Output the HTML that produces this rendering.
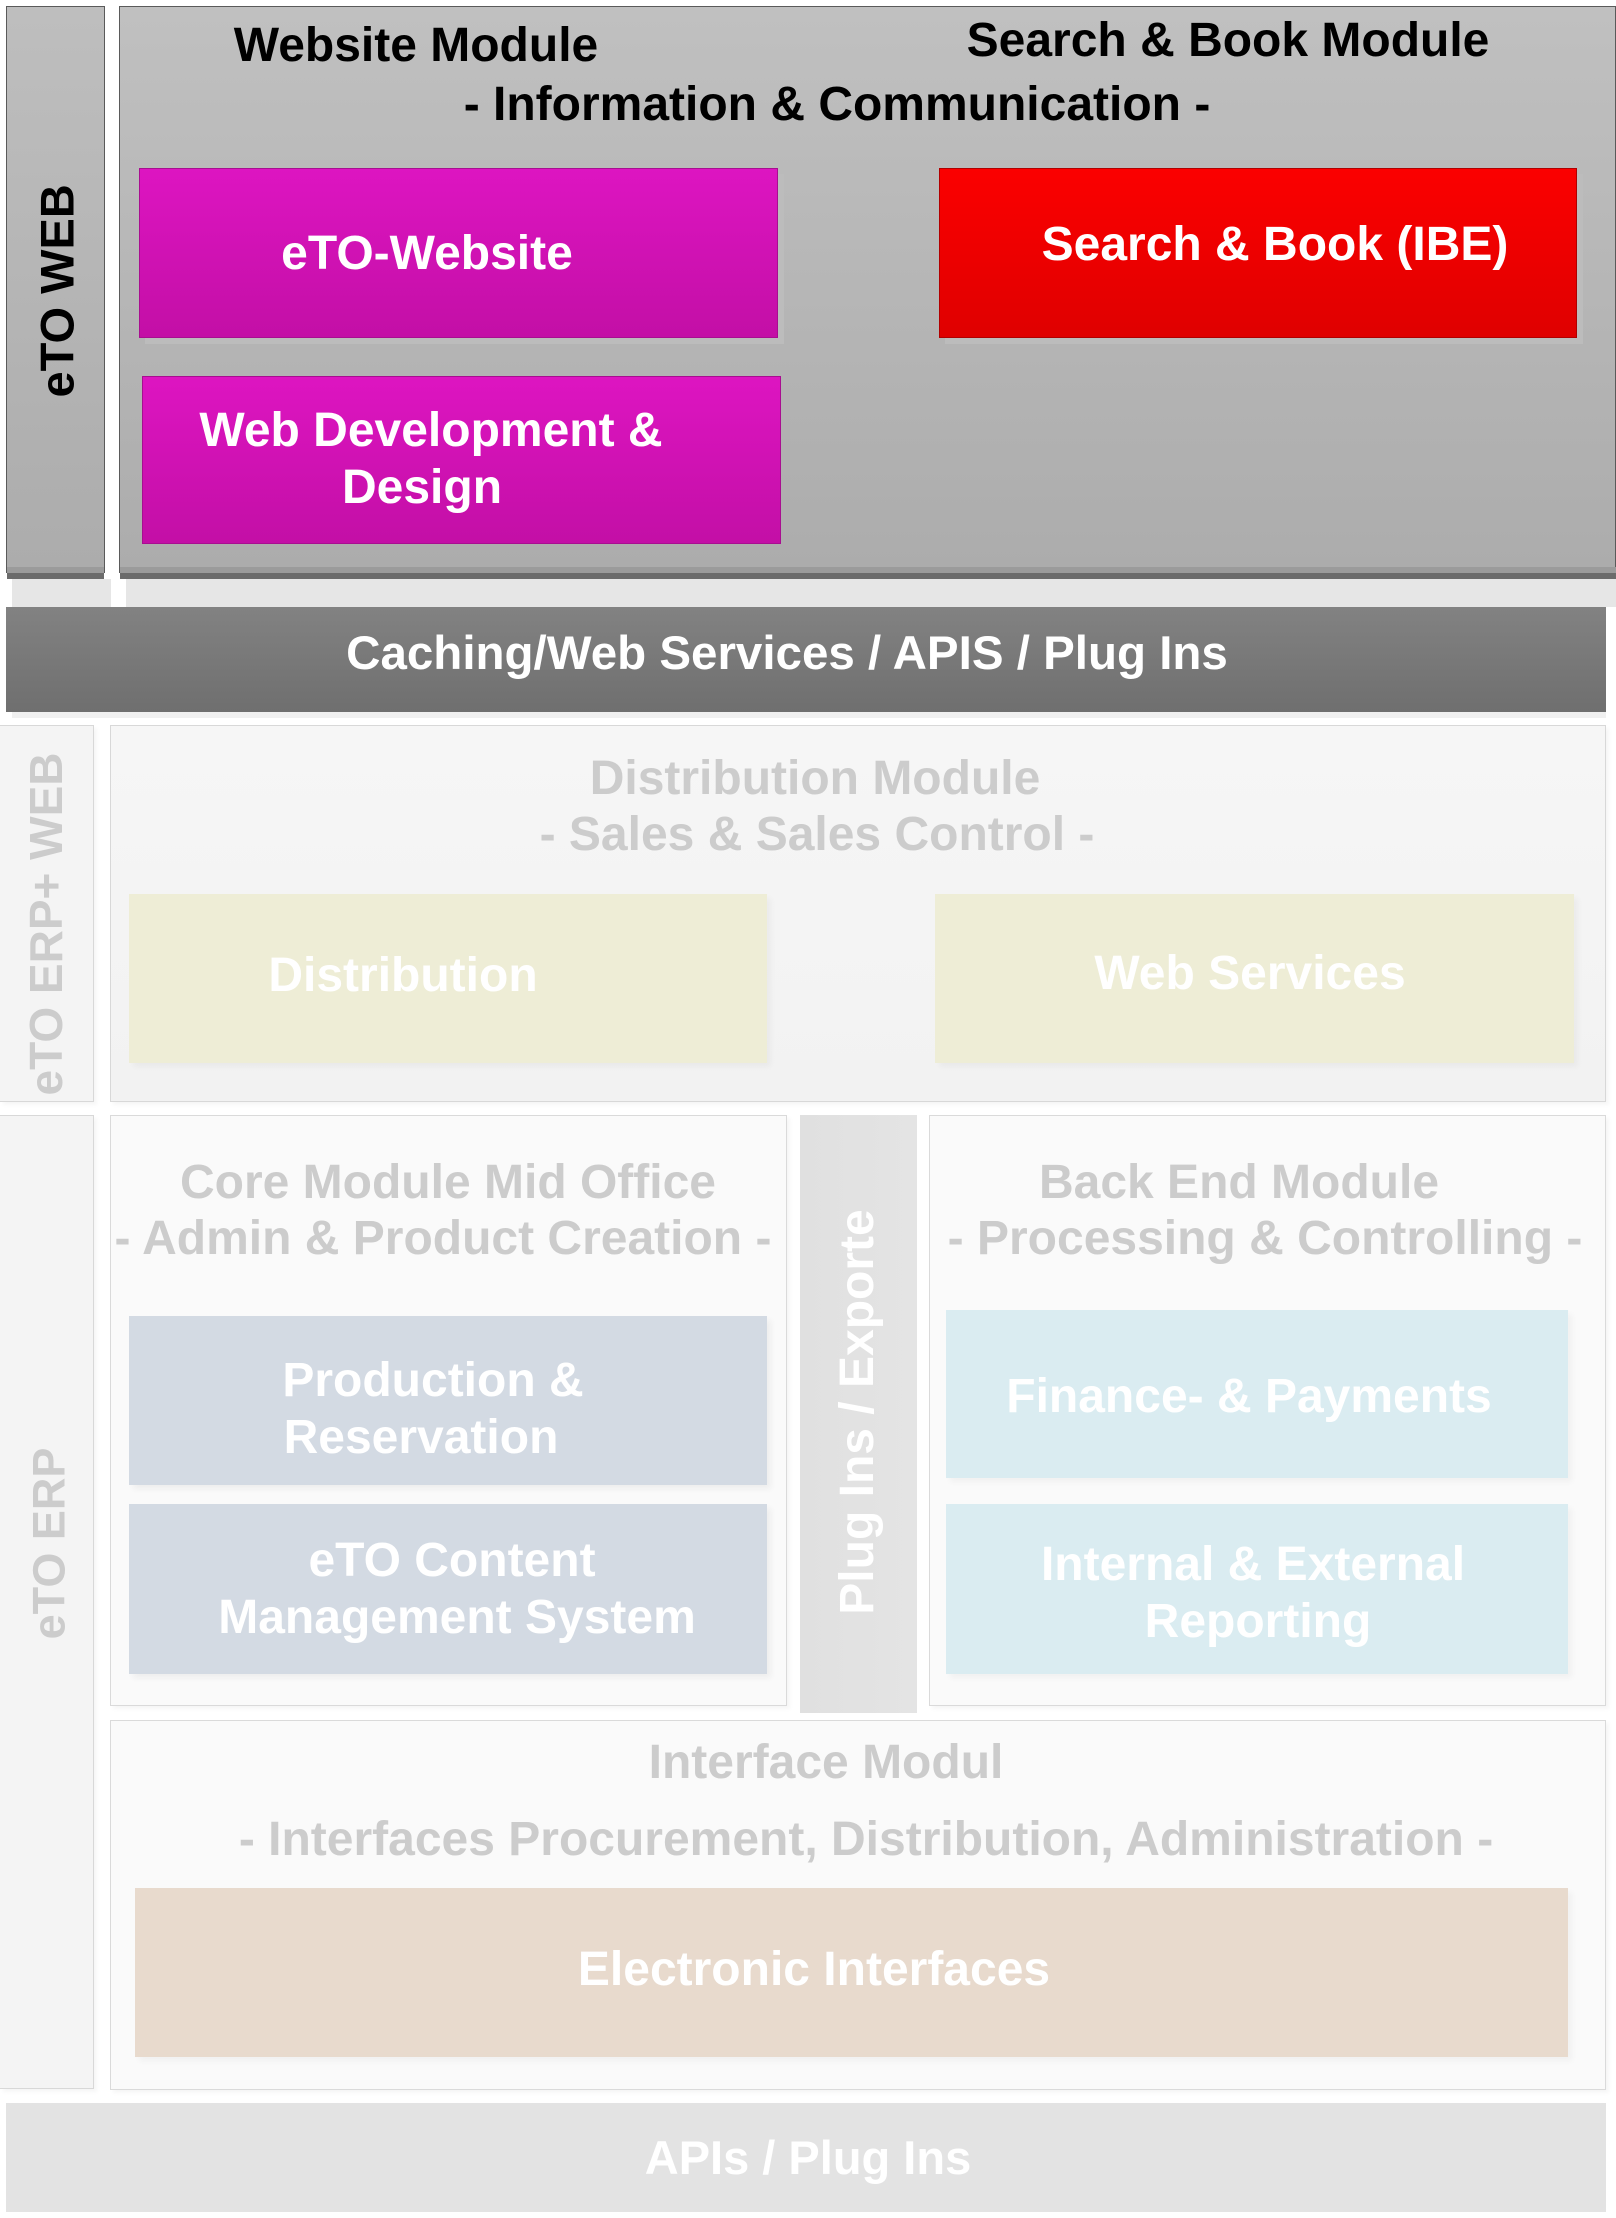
<!DOCTYPE html>
<html>
<head>
<meta charset="utf-8">
<style>
  html, body { margin:0; padding:0; }
  body { width:1616px; height:2218px; position:relative; overflow:hidden; background:#ffffff;
         font-family:"Liberation Sans", Arial, sans-serif; font-weight:bold; }
  .r { position:absolute; box-sizing:border-box; }
  .t { position:absolute; width:1600px; text-align:center; white-space:nowrap; font-weight:bold; }
  .v { position:absolute; text-align:center; white-space:nowrap; font-weight:bold; transform:rotate(-90deg); }
</style>
</head>
<body>

<!-- ===== TOP: eTO WEB ===== -->
<div class="r" style="left:12px;top:579px;width:99px;height:28px;background:#e6e6e6;"></div>
<div class="r" style="left:126px;top:579px;width:1490px;height:28px;background:#e6e6e6;"></div>

<div class="r" style="left:6px;top:6px;width:99px;height:567px;background:linear-gradient(#bebebe,#acacac);border:1.5px solid #5a5a5a;border-bottom:none;"></div>
<div class="r" style="left:7px;top:567px;width:97px;height:6px;background:#9b9b9b;"></div>
<div class="r" style="left:7px;top:573px;width:97px;height:6px;background:#6b6b6b;"></div>

<div class="r" style="left:119px;top:6px;width:1497px;height:567px;background:linear-gradient(#c0c0c0,#acacac);border:1.5px solid #5a5a5a;border-bottom:none;"></div>
<div class="r" style="left:120px;top:567px;width:1496px;height:6px;background:#9b9b9b;"></div>
<div class="r" style="left:120px;top:573px;width:1496px;height:6px;background:#6b6b6b;"></div>

<div class="v" style="left:-43px;top:274px;width:200px;height:47px;font-size:47px;line-height:47px;color:#000;">eTO WEB</div>

<div class="t" style="left:-384px;top:22px;font-size:48px;line-height:48px;color:#000;">Website Module</div>
<div class="t" style="left:428px;top:17px;font-size:48px;line-height:48px;color:#000;">Search &amp; Book Module</div>
<div class="t" style="left:37px;top:81px;font-size:48px;line-height:48px;color:#000;">- Information &amp; Communication -</div>

<!-- eTO-Website -->
<div class="r" style="left:145px;top:174px;width:639px;height:170px;background:#bcbcbc;"></div>
<div class="r" style="left:139px;top:168px;width:639px;height:170px;background:linear-gradient(#dd15c1,#c30fa6);border:1px solid #a80e90;"></div>
<div class="t" style="left:-373px;top:230px;font-size:48px;line-height:48px;color:#fff;">eTO-Website</div>

<!-- Web Development -->
<div class="r" style="left:142px;top:376px;width:639px;height:168px;background:linear-gradient(#dd15c1,#c30fa6);border:1px solid #a80e90;"></div>
<div class="t" style="left:-369px;top:407px;font-size:48px;line-height:48px;color:#fff;">Web Development &amp;</div>
<div class="t" style="left:-378px;top:464px;font-size:48px;line-height:48px;color:#fff;">Design</div>

<!-- Search & Book -->
<div class="r" style="left:945px;top:174px;width:638px;height:170px;background:#bcbcbc;"></div>
<div class="r" style="left:939px;top:168px;width:638px;height:170px;background:linear-gradient(#fb0000,#df0000);border:1px solid #b00000;"></div>
<div class="t" style="left:475px;top:221px;font-size:48px;line-height:48px;color:#fff;">Search &amp; Book (IBE)</div>

<!-- Caching bar -->
<div class="r" style="left:12px;top:712px;width:1594px;height:6px;background:#f0f0f0;"></div>
<div class="r" style="left:6px;top:607px;width:1600px;height:105px;background:linear-gradient(#828282,#6f6f6f);"></div>
<div class="t" style="left:-13px;top:630px;font-size:47.5px;line-height:47.5px;color:#fff;">Caching/Web Services / APIS / Plug Ins</div>

<!-- ===== eTO ERP+ WEB ===== -->
<div class="r" style="left:0px;top:725px;width:94px;height:377px;background:#f4f4f4;border:1px solid #d8d8d8;border-left:none;box-shadow:3px 3px 4px rgba(0,0,0,0.04);"></div>
<div class="v" style="left:-154px;top:901px;width:400px;height:46px;font-size:46px;line-height:46px;color:#cccccc;">eTO ERP+ WEB</div>

<div class="r" style="left:110px;top:725px;width:1496px;height:377px;background:linear-gradient(#f6f6f6,#f2f2f2);border:1px solid #d8d8d8;box-shadow:3px 3px 4px rgba(0,0,0,0.04);"></div>
<div class="t" style="left:15px;top:755px;font-size:48px;line-height:48px;color:#cccccc;">Distribution Module</div>
<div class="t" style="left:17px;top:811px;font-size:48px;line-height:48px;color:#cccccc;">- Sales &amp; Sales Control -</div>

<div class="r" style="left:129px;top:894px;width:638px;height:169px;background:#eeedd6;box-shadow:4px 4px 6px rgba(0,0,0,0.04);"></div>
<div class="t" style="left:-397px;top:952px;font-size:48px;line-height:48px;color:#fff;">Distribution</div>

<div class="r" style="left:935px;top:894px;width:639px;height:169px;background:#eeedd6;box-shadow:4px 4px 6px rgba(0,0,0,0.04);"></div>
<div class="t" style="left:450px;top:950px;font-size:48px;line-height:48px;color:#fff;">Web Services</div>

<!-- ===== eTO ERP ===== -->
<div class="r" style="left:0px;top:1115px;width:94px;height:974px;background:#f4f4f4;border:1px solid #d8d8d8;border-left:none;box-shadow:3px 3px 4px rgba(0,0,0,0.04);"></div>
<div class="v" style="left:-101px;top:1521px;width:300px;height:45px;font-size:45px;line-height:45px;color:#cccccc;">eTO ERP</div>

<!-- Core module -->
<div class="r" style="left:110px;top:1115px;width:677px;height:591px;background:#fafafa;border:1px solid #dadada;box-shadow:3px 3px 4px rgba(0,0,0,0.04);"></div>
<div class="t" style="left:-352px;top:1159px;font-size:48px;line-height:48px;color:#cccccc;">Core Module Mid Office</div>
<div class="t" style="left:-357px;top:1215px;font-size:48px;line-height:48px;color:#cccccc;">- Admin &amp; Product Creation -</div>

<div class="r" style="left:129px;top:1316px;width:638px;height:169px;background:#d3dae3;box-shadow:4px 4px 6px rgba(0,0,0,0.05);"></div>
<div class="t" style="left:-367px;top:1357px;font-size:48px;line-height:48px;color:#fff;">Production &amp;</div>
<div class="t" style="left:-379px;top:1414px;font-size:48px;line-height:48px;color:#fff;">Reservation</div>

<div class="r" style="left:129px;top:1504px;width:638px;height:170px;background:#d3dae3;box-shadow:4px 4px 6px rgba(0,0,0,0.05);"></div>
<div class="t" style="left:-348px;top:1537px;font-size:48px;line-height:48px;color:#fff;">eTO Content</div>
<div class="t" style="left:-343px;top:1594px;font-size:48px;line-height:48px;color:#fff;">Management System</div>

<!-- Plug Ins / Exporte -->
<div class="r" style="left:800px;top:1115px;width:117px;height:598px;background:linear-gradient(90deg,#e0e0e0,#e4e4e4);"></div>
<div class="v" style="left:608px;top:1388px;width:500px;height:48px;font-size:48px;line-height:48px;color:#fff;">Plug Ins / Exporte</div>

<!-- Back End -->
<div class="r" style="left:929px;top:1115px;width:677px;height:591px;background:#fafafa;border:1px solid #dadada;box-shadow:3px 3px 4px rgba(0,0,0,0.04);"></div>
<div class="t" style="left:439px;top:1159px;font-size:48px;line-height:48px;color:#cccccc;">Back End Module</div>
<div class="t" style="left:465px;top:1215px;font-size:48px;line-height:48px;color:#cccccc;">- Processing &amp; Controlling -</div>

<div class="r" style="left:946px;top:1310px;width:622px;height:168px;background:#daecf1;box-shadow:4px 4px 6px rgba(0,0,0,0.04);"></div>
<div class="t" style="left:449px;top:1373px;font-size:48px;line-height:48px;color:#fff;">Finance- &amp; Payments</div>

<div class="r" style="left:946px;top:1504px;width:622px;height:170px;background:#daecf1;box-shadow:4px 4px 6px rgba(0,0,0,0.04);"></div>
<div class="t" style="left:453px;top:1541px;font-size:48px;line-height:48px;color:#fff;">Internal &amp; External</div>
<div class="t" style="left:458px;top:1598px;font-size:48px;line-height:48px;color:#fff;">Reporting</div>

<!-- Interface Modul -->
<div class="r" style="left:110px;top:1720px;width:1496px;height:370px;background:#fafafa;border:1px solid #dadada;box-shadow:3px 3px 4px rgba(0,0,0,0.04);"></div>
<div class="t" style="left:26px;top:1739px;font-size:48px;line-height:48px;color:#cccccc;">Interface Modul</div>
<div class="t" style="left:66px;top:1816px;font-size:48px;line-height:48px;color:#cccccc;">- Interfaces Procurement, Distribution, Administration -</div>

<div class="r" style="left:135px;top:1888px;width:1433px;height:169px;background:#e8dacd;box-shadow:4px 4px 6px rgba(0,0,0,0.04);"></div>
<div class="t" style="left:14px;top:1946px;font-size:48px;line-height:48px;color:#fff;">Electronic Interfaces</div>

<!-- APIs bar -->
<div class="r" style="left:6px;top:2103px;width:1600px;height:109px;background:#e3e3e3;"></div>
<div class="t" style="left:8px;top:2134px;font-size:47px;line-height:47px;color:#fff;">APIs / Plug Ins</div>

</body>
</html>
